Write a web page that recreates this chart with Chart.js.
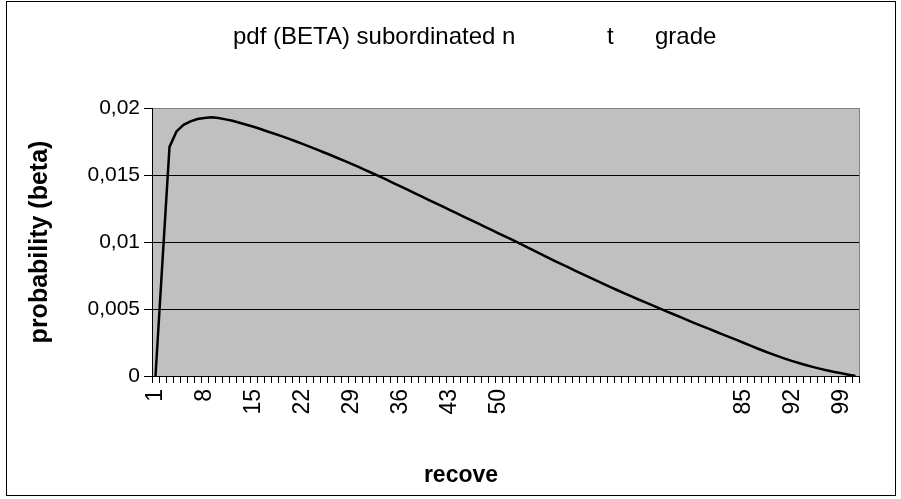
<!DOCTYPE html>
<html>
<head>
<meta charset="utf-8">
<script src="https://cdn.jsdelivr.net/npm/chart.js@4.4.0/dist/chart.umd.min.js"></script>
<style>
  body { margin: 0; background: #fff; }
  #frame { position: absolute; left: 6px; top: 1px; width: 888px; height: 493px; border: 1px solid #000; }
</style>
</head>
<body>
<div id="frame"><canvas id="betaChart" width="888" height="493"></canvas></div>
<script>
// recovery categories (x axis)
const recoveryLabels = [
  1, 2, 3, 4, 5, 6, 7, 8, 9, 10, 11, 12, 13, 14, 15, 16, 17, 18, 19, 20,
  21, 22, 23, 24, 25, 26, 27, 28, 29, 30, 31, 32, 33, 34, 35, 36, 37, 38, 39, 40,
  41, 42, 43, 44, 45, 46, 47, 48, 49, 50, 51, 52, 53, 54, 55, 56, 57, 58, 59, 60,
  61, 62, 63, 64, 65, 66, 67, 68, 69, 70, 71, 72, 73, 74, 75, 76, 77, 78, 79, 80,
  81, 82, 83, 84, 85, 86, 87, 88, 89, 90, 91, 92, 93, 94, 95, 96, 97, 98, 99, 100, 101
];

// probability (beta)
const betaValues = [
  0, 0.0086, 0.0171, 0.01825, 0.01875, 0.0190, 0.01918, 0.01925, 0.0193, 0.01925,
  0.01915, 0.01905, 0.0189, 0.01875, 0.0186, 0.01843, 0.01825, 0.01808, 0.0179, 0.01771,
  0.01752, 0.01732, 0.01712, 0.01691, 0.0167, 0.01649, 0.01627, 0.01605, 0.01583, 0.0156,
  0.01537, 0.01513, 0.01489, 0.01465, 0.0144, 0.01415, 0.0139, 0.01365, 0.0134, 0.01315,
  0.0129, 0.01265, 0.0124, 0.01215, 0.0119, 0.01165, 0.0114, 0.01115, 0.0109, 0.01065,
  0.0104, 0.01015, 0.0099, 0.00964, 0.00938, 0.00912, 0.00886, 0.0086, 0.00835, 0.0081,
  0.00785, 0.0076, 0.00736, 0.00712, 0.00688, 0.00664, 0.0064, 0.00617, 0.00594, 0.00571,
  0.00549, 0.00527, 0.00505, 0.00483, 0.00461, 0.00439, 0.00417, 0.00395, 0.00374, 0.00353,
  0.00332, 0.00311, 0.0029, 0.00269, 0.00248, 0.00226, 0.00205, 0.00185, 0.00165, 0.00146,
  0.00128, 0.00111, 0.00095, 0.0008, 0.00066, 0.00053, 0.00041, 0.0003, 0.0002, 0.0001, 0
];

// only these category labels are printed under the axis
const shownTickLabels = [1, 8, 15, 22, 29, 36, 43, 50, 85, 92, 99];

const titleParts = ['pdf (BETA) subordinated n', 't', 'grade'];
const xAxisTitle = 'recove';
const yAxisTitle = 'probability (beta)';

const FONT = '"Liberation Sans", Arial, sans-serif';

// grey plot area with its border, like the spreadsheet chart
const plotBackground = {
  id: 'plotBackground',
  beforeDraw(chart) {
    const ctx = chart.ctx;
    const a = chart.chartArea;
    ctx.save();
    ctx.fillStyle = '#c0c0c0';
    ctx.fillRect(a.left, a.top, a.right - a.left, a.bottom - a.top);
    ctx.strokeStyle = '#808080';
    ctx.lineWidth = 1;
    ctx.strokeRect(Math.round(a.left) + 0.5, Math.round(a.top) + 0.5,
      Math.round(a.right - a.left), Math.round(a.bottom - a.top));
    ctx.restore();
  }
};

// chart title and x title sit off centre in the original
const freeTitles = {
  id: 'freeTitles',
  afterDraw(chart) {
    const ctx = chart.ctx;
    ctx.save();
    ctx.fillStyle = '#000';
    ctx.textBaseline = 'middle';
    ctx.textAlign = 'left';
    ctx.font = '24px ' + FONT;
    ctx.fillText(titleParts[0], 226, 35);
    ctx.fillText(titleParts[1], 600, 35);
    ctx.fillText(titleParts[2], 648, 35);
    ctx.font = 'bold 23px ' + FONT;
    ctx.textAlign = 'center';
    ctx.fillText(xAxisTitle, 454, 474);
    ctx.restore();
  }
};

const ctx = document.getElementById('betaChart').getContext('2d');
let chart = null;
chart = new Chart(ctx, {
  type: 'line',
  data: {
    labels: recoveryLabels,
    datasets: [{
      data: betaValues,
      borderColor: '#000',
      borderWidth: 2.5,
      pointRadius: 0,
      tension: 0,
      fill: false
    }]
  },
  options: {
    responsive: false,
    animation: false,
    layout: { padding: { top: 106, right: 36, bottom: 0, left: 0 } },
    plugins: {
      legend: { display: false },
      title: { display: false },
      tooltip: { enabled: false }
    },
    scales: {
      x: {
        offset: true,
        grid: { offset: true, drawOnChartArea: false, drawTicks: true, tickLength: 7, color: '#000' },
        border: { color: '#000', width: 1 },
        ticks: {
          autoSkip: false,
          minRotation: 90,
          maxRotation: 90,
          padding: 6,
          color: '#000',
          font: { family: FONT, size: 23 },
          callback: function (value, index) {
            let lab = recoveryLabels[index];
            return shownTickLabels.includes(lab) ? String(lab) : '';
          }
        },
        afterFit: function (s) { s.height = 119; }
      },
      y: {
        min: 0,
        max: 0.02,
        grid: {
          color: function (c) { return c.tick && c.tick.value === 0.02 ? '#808080' : '#000'; },
          tickColor: '#000',
          tickLength: 8
        },
        border: { color: '#000', width: 1 },
        ticks: {
          stepSize: 0.005,
          padding: 4,
          color: '#000',
          font: { family: FONT, size: 21 },
          callback: function (v) {
            return v === 0 ? '0' : String(+v.toFixed(3)).replace('.', ',');
          }
        },
        title: {
          display: true,
          text: yAxisTitle,
          color: '#000',
          font: { family: FONT, size: 25, weight: 'bold' },
          padding: { top: 18, bottom: 0 }
        },
        afterFit: function (s) { s.width = 145; }
      }
    }
  },
  plugins: [plotBackground, freeTitles]
});
</script>
</body>
</html>
